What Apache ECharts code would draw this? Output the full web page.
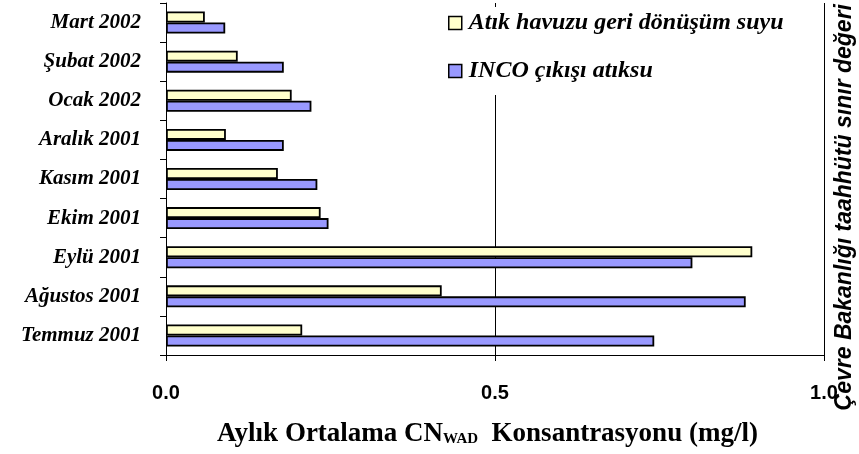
<!DOCTYPE html>
<html>
<head>
<meta charset="utf-8">
<script src="https://cdn.jsdelivr.net/npm/echarts@6/dist/echarts.min.js"></script>
<style>html,body{margin:0;padding:0;background:#fff;}#c{width:859px;height:454px;}</style>
</head>
<body>
<div id="c"></div>
<script>
var categories = ['Temmuz 2001', 'Ağustos 2001', 'Eylü 2001', 'Ekim 2001', 'Kasım 2001', 'Aralık 2001', 'Ocak 2002', 'Şubat 2002', 'Mart 2002'];
var atikHavuzu = [0.207, 0.419, 0.891, 0.235, 0.170, 0.091, 0.191, 0.109, 0.059];
var incoCikisi = [0.742, 0.881, 0.800, 0.247, 0.230, 0.179, 0.221, 0.179, 0.090];
var seriesNames = ['Atık havuzu geri dönüşüm suyu', 'INCO çıkışı atıksu'];
var xTicks = [0.0, 0.5, 1.0];
var limitLabel = 'Çevre Bakanlığı taahhütü sınır değeri';

var chart = echarts.init(document.getElementById('c'));
chart.setOption({
  animation: false,
  backgroundColor: '#fff',
  grid: {left: 166, right: 35, top: 3, bottom: 99},
  legend: {
    orient: 'vertical',
    left: 444, top: 7,
    icon: 'rect',
    itemWidth: 13, itemHeight: 13, itemGap: 24,
    itemStyle: {borderColor: '#000', borderWidth: 1.5},
    backgroundColor: '#fff',
    padding: [4, 10, 12, 4],
    data: [seriesNames[0], seriesNames[1]],
    textStyle: {fontFamily: 'Liberation Serif', fontWeight: 'bold', fontStyle: 'italic', fontSize: 24, color: '#000', padding: [0, 0, 0, 2]}
  },
  xAxis: {
    type: 'value', min: 0, max: 1, interval: 0.5,
    axisLine: {show: true, lineStyle: {color: '#000', width: 1}},
    axisTick: {show: true, length: 6, lineStyle: {color: '#000'}},
    axisLabel: {margin: 28, formatter: function(v){ return v.toFixed(1); },
      fontFamily: 'Liberation Sans', fontWeight: 'bold', fontSize: 20, color: '#000'},
    splitLine: {show: true, lineStyle: {color: '#000', width: 1}},
    name: '{b|Aylık Ortalama CN}{s|WAD}{b|  Konsantrasyonu (mg/l)}',
    nameLocation: 'middle', nameGap: 66,
    nameTextStyle: {
      padding: [0, 15, 0, 0],
      rich: {
        b: {fontFamily: 'Liberation Serif', fontWeight: 'bold', fontSize: 27, color: '#000'},
        s: {fontFamily: 'Liberation Serif', fontWeight: 'bold', fontSize: 15, color: '#000', padding: [10, 0, 0, 0]}
      }
    }
  },
  yAxis: {
    type: 'category', data: categories,
    axisLine: {show: true, lineStyle: {color: '#000', width: 1}},
    axisTick: {show: true, length: 6, alignWithLabel: false, lineStyle: {color: '#000'}},
    axisLabel: {margin: 25, fontFamily: 'Liberation Serif', fontWeight: 'bold', fontStyle: 'italic', fontSize: 21, color: '#000'},
    splitLine: {show: false}
  },
  series: [
    {name: seriesNames[0], type: 'bar', data: atikHavuzu, barWidth: 11, barGap: '0%',
     itemStyle: {color: '#FFFFCC', borderColor: '#000', borderWidth: 1.8}},
    {name: seriesNames[1], type: 'bar', data: incoCikisi, barWidth: 11, barGap: '0%',
     itemStyle: {color: '#9999FF', borderColor: '#000', borderWidth: 1.8}}
  ],
  graphic: [{
    type: 'text', left: 833, top: 4, rotation: Math.PI / 2,
    style: {text: limitLabel, fontFamily: 'Liberation Sans', fontWeight: 'bold', fontStyle: 'italic', fontSize: 23, fill: '#000'}
  }]
});
</script>
</body>
</html>
